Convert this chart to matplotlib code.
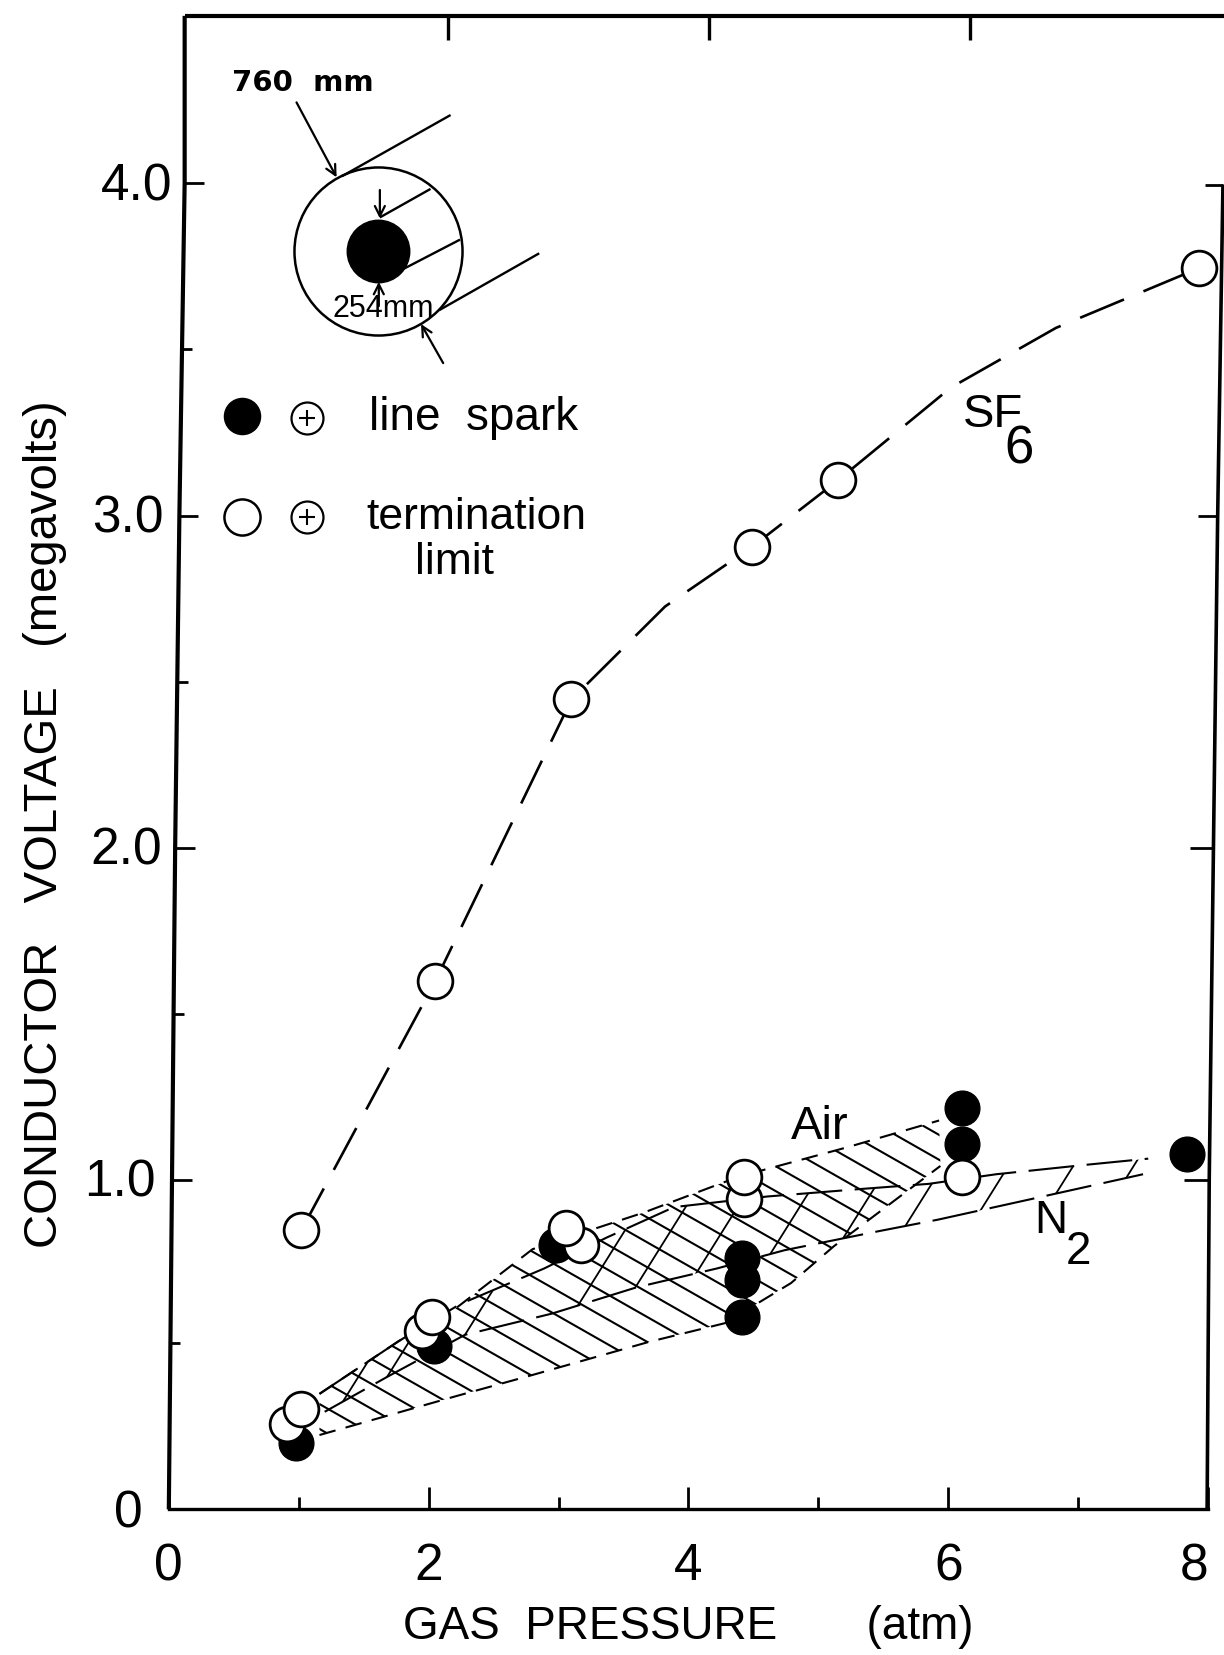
import numpy as np
import matplotlib
matplotlib.use("Agg")
import matplotlib.pyplot as plt
from matplotlib.patches import Polygon

plt.rcParams["font.family"] = ["Liberation Sans"]

# values
sf6_x = [1.02, 2.05, 3.10, 4.49, 5.15, 7.93]
sf6_y = [0.84, 1.59, 2.44, 2.90, 3.10, 3.74]
sf6_curve_x = [1.02, 2.05, 3.10, 3.82, 4.49, 5.15, 6.02, 6.83, 7.93]
sf6_curve_y = [0.84, 1.59, 2.44, 2.72, 2.90, 3.10, 3.38, 3.56, 3.74]

spark_x = [0.98, 2.04, 2.98, 4.41, 4.41, 4.41, 6.11, 6.11, 7.84]
spark_y = [0.20, 0.49, 0.795, 0.757, 0.69, 0.58, 1.21, 1.10, 1.07]
term_x = [0.91, 1.02, 1.95, 2.03, 3.17, 3.06, 4.43, 4.43, 6.11]
term_y = [0.255, 0.30, 0.535, 0.58, 0.795, 0.846, 0.935, 1.00, 1.00]

air_up_x = [1.16, 1.77, 2.21, 2.80, 3.66, 4.39, 5.23, 5.93]
air_up_y = [0.347, 0.506, 0.605, 0.783, 0.894, 1.002, 1.091, 1.171]
air_lo_x = [1.16, 2.21, 2.80, 3.69, 4.28, 4.79, 5.12, 5.54, 5.94]
air_lo_y = [0.223, 0.340, 0.404, 0.503, 0.560, 0.681, 0.792, 0.916, 1.034]

n2_up_x = [1.16, 1.77, 2.24, 2.89, 3.37, 3.89, 4.61, 5.31, 5.85, 6.37, 7.05, 7.54]
n2_up_y = [0.347, 0.506, 0.617, 0.725, 0.818, 0.910, 0.942, 0.964, 0.980, 1.009, 1.037, 1.056]
n2_lo_x = [1.20, 1.68, 2.28, 2.95, 3.60, 4.22, 4.74, 5.46, 5.92, 6.58, 7.50]
n2_lo_y = [0.293, 0.398, 0.525, 0.589, 0.668, 0.725, 0.780, 0.837, 0.872, 0.929, 1.009]
n2_hatch_x = [1.34, 1.68, 2.28, 3.15, 3.59, 4.06, 4.63, 5.19, 5.67, 6.25, 6.83, 7.37]

x_major = [0, 2, 4, 6, 8]
x_minor = [1, 3, 5, 7]
y_major = [0, 1, 2, 3, 4]
y_labels = ["0", "1.0", "2.0", "3.0", "4.0"]

W, H = 1224, 1655
fig = plt.figure(figsize=(W / 100, H / 100), dpi=100)
ax = fig.add_axes([168.8 / W, 1 - 1509 / H, (1208 - 168.8) / W, (1509 - 16) / H])
ax.set_xlim(0, 8)
ax.set_ylim(0, 4.5)

for s in ["top", "left", "right"]:
    ax.spines[s].set_visible(False)
ax.spines["bottom"].set_linewidth(2.4)

ax.set_xticks(x_major)
ax.set_xticks(x_minor, minor=True)
ax.set_yticks(y_major, y_labels)
ax.tick_params(axis="x", which="major", direction="in", length=16, width=2, labelsize=37, pad=24)
ax.tick_params(axis="x", which="minor", direction="in", length=9, width=2)
ax.tick_params(axis="y", length=0, labelsize=37, pad=0)
ax.xaxis.get_major_ticks()[-1].label1.set_ha("right")

# tick labels follow the slanted axis line
for tick, off in zip(ax.yaxis.get_major_ticks(), [-0.025, -0.013, -0.007, -0.005, 0.003]):
    tick.label1.set_x(off)

ax.set_xlabel("GAS  PRESSURE       (atm)", fontsize=33, labelpad=10)
ax.set_ylabel("CONDUCTOR   VOLTAGE   (megavolts)", fontsize=34, family=["Liberation Sans Narrow", "Liberation Sans"])
ax.yaxis.set_label_coords(-0.098, 0.459)

# hatching of the two bands
air_poly = Polygon(np.c_[air_up_x + air_lo_x[::-1], air_up_y + air_lo_y[::-1]], transform=ax.transData)
n2_poly = Polygon(np.c_[n2_up_x + n2_lo_x[::-1], n2_up_y + n2_lo_y[::-1]], transform=ax.transData)

xs = np.array([0.0, 8.0])
for c in np.arange(0.5, 2.55, 0.075):
    ln, = ax.plot(xs, c - 0.223 * xs, color="black", lw=1.5, zorder=2)
    ln.set_clip_path(air_poly)
for hx in n2_hatch_x:
    hy = np.interp(hx, n2_lo_x, n2_lo_y)
    ln, = ax.plot(xs, hy + 0.626 * (xs - hx), color="black", lw=1.3, zorder=2)
    ln.set_clip_path(n2_poly)

ax.plot(air_up_x, air_up_y, color="black", lw=1.5, ls=(0, (8, 5)), zorder=2)
ax.plot(air_lo_x, air_lo_y, color="black", lw=1.5, ls=(0, (8, 5)), zorder=2)
ax.plot(n2_up_x, n2_up_y, color="black", lw=1.5, ls=(0, (22, 6)), zorder=2)
ax.plot(n2_lo_x, n2_lo_y, color="black", lw=1.5, ls=(0, (22, 6)), zorder=2)

ax.plot(sf6_curve_x, sf6_curve_y, color="black", lw=1.9, ls=(0, (18, 8)), zorder=2)

ax.plot(spark_x, spark_y, "o", ms=25, mfc="black", mec="black", zorder=3, clip_on=False)
ax.plot(term_x, term_y, "o", ms=25, mfc="white", mec="black", mew=2, zorder=4, clip_on=False)
ax.plot(sf6_x, sf6_y, "o", ms=25, mfc="white", mec="black", mew=2, zorder=4, clip_on=False)

# everything hand drawn on the sheet: coordinates are in picture pixels
sk = fig.add_axes([0, 0, 1, 1])
sk.set_xlim(0, 1160)
sk.set_ylim(1568, 0)
sk.axis("off")


def seg(x, y, lw=2.0):
    sk.plot(x, y, color="black", lw=lw, solid_capstyle="butt")


seg([160, 163, 166, 170, 175, 175], [1430, 1118, 803, 489, 173, 15], 3.0)
seg([175, 1160], [15, 15], 3.0)
seg([1144, 1146, 1150, 1154, 1159], [1430, 1118, 803, 489, 175], 2.6)
for x0, x1, y in [(163, 182, 1118), (166, 185, 803), (169, 188, 489), (175, 193, 173),
                  (162, 171, 1272), (165, 174, 961), (167, 178, 646), (172, 182, 331),
                  (1122, 1146, 1118), (1128, 1150, 803), (1135, 1154, 489), (1142, 1159, 175)]:
    seg([x0, x1], [y, y])
for x in [425, 672, 919]:
    seg([x, x], [15, 38], 2.4)

# cable cross section
sk.plot(358, 238, "o", ms=121, mfc="none", mec="black", mew=1.8)
sk.plot(358, 238, "o", ms=45, mfc="black", mec="black")
for x, y in [([324, 427], [167, 109]), ([360, 408], [206, 179]), ([382, 436], [255, 227]), ([416, 511], [294, 240])]:
    seg(x, y, 1.7)
for a, b in [((281, 97), (319, 168)), ((360, 180), (360, 207)), ((359, 290), (359, 267)), ((420, 344), (399, 307))]:
    sk.annotate("", xy=b, xytext=a, arrowprops=dict(arrowstyle="->", lw=1.6, color="black", shrinkA=0, shrinkB=0, mutation_scale=18))

sk.text(287, 79, "760  mm", fontsize=21, family="DejaVu Sans", weight="bold", ha="center", va="center")
sk.text(363, 293, "254mm", fontsize=22, ha="center", va="center")

# key
sk.plot(229, 394, "o", ms=26, mfc="black", mec="black")
sk.plot(229, 490, "o", ms=26, mfc="white", mec="black", mew=1.8)
for y in [396, 490]:
    sk.plot(291, y, "o", ms=23, mfc="none", mec="black", mew=1.6)
    sk.plot(291, y, "+", ms=12, mec="black", mew=1.5)
sk.text(350, 396, "line  spark", fontsize=33, ha="left", va="center")
sk.text(347, 490, "termination", fontsize=32, ha="left", va="center")
sk.text(431, 533, "limit", fontsize=32, ha="center", va="center")

# curve names
sk.text(913, 393, "SF", fontsize=34, ha="left", va="center")
sk.text(952, 426, "6", fontsize=38, ha="left", va="center")
sk.text(777, 1068, "Air", fontsize=34, ha="center", va="center")
sk.text(980, 1157, "N", fontsize=33, ha="left", va="center")
sk.text(1010, 1186, "2", fontsize=33, ha="left", va="center")

fig.savefig("out.png", dpi=100)
